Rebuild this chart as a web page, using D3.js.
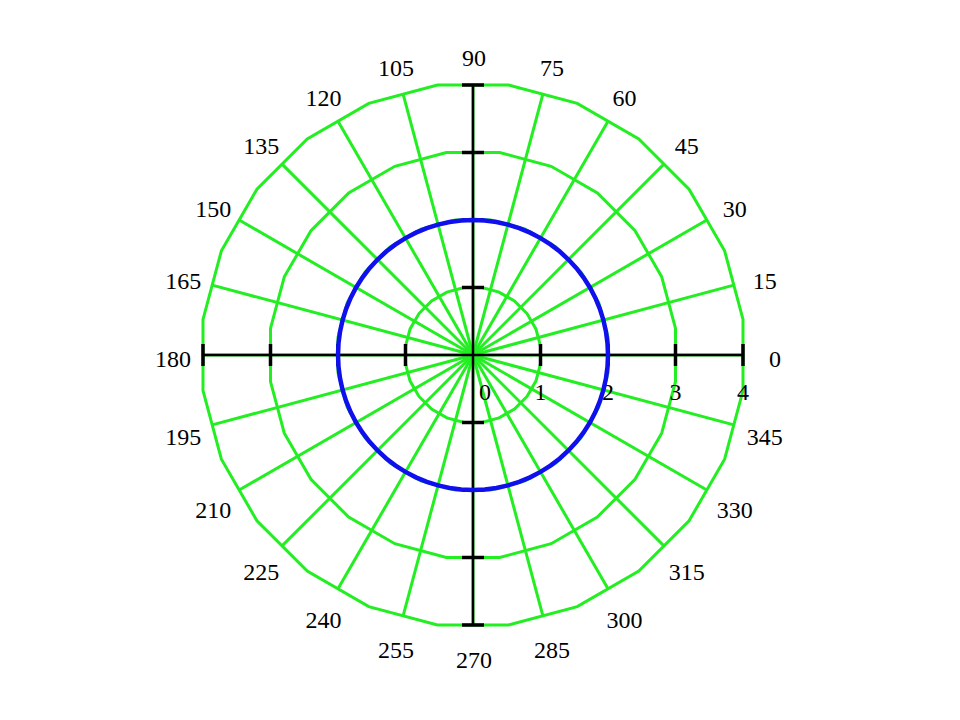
<!DOCTYPE html>
<html>
<head>
<meta charset="utf-8">
<script src="https://cdn.jsdelivr.net/npm/d3@7"></script>
<style>
html,body{margin:0;padding:0;background:#fff;}
svg{display:block;}
text{font-family:"Liberation Serif","Times New Roman",serif;font-size:24px;fill:#000;}
</style>
</head>
<body>
<svg id="chart" width="960" height="720"></svg>
<script>
// ---- data ----
const angleLabels = [0,15,30,45,60,75,90,105,120,135,150,165,180,195,210,225,240,255,270,285,300,315,330,345];
const radialTicks = [0,1,2,3,4];
const gridRings = [1,2,3,4];
// curve: angle (degrees) and radius
const curveTheta = [0,5,10,15,20,25,30,35,40,45,50,55,60,65,70,75,80,85,90,95,100,105,110,115,120,125,130,135,140,145,150,155,160,165,170,175,180,185,190,195,200,205,210,215,220,225,230,235,240,245,250,255,260,265,270,275,280,285,290,295,300,305,310,315,320,325,330,335,340,345,350,355,360];
const curveR = [2,2,2,2,2,2,2,2,2,2,2,2,2,2,2,2,2,2,2,2,2,2,2,2,2,2,2,2,2,2,2,2,2,2,2,2,2,2,2,2,2,2,2,2,2,2,2,2,2,2,2,2,2,2,2,2,2,2,2,2,2,2,2,2,2,2,2,2,2,2,2,2,2];

// ---- layout ----
const cx = 473, cy = 355;
const rMax = 4;
const r = d3.scaleLinear().domain([0, rMax]).range([0, 270]);
const toRad = d => d * Math.PI / 180;
const pt = (deg, rad) => [cx + rad * Math.cos(toRad(deg)), cy - rad * Math.sin(toRad(deg))];

const svg = d3.select("#chart");
svg.append("rect").attr("width",960).attr("height",720).attr("fill","#fff");
const green = "#22ee22";

// grid rings: 24-gon with vertices offset 7.5°, edges tangent at spokes
const ringG = svg.append("g");
gridRings.forEach(v => {
  const R = r(v) / Math.cos(toRad(7.5));
  const pts = d3.range(24).map(k => pt(7.5 + 15*k, R));
  ringG.append("polygon")
    .attr("points", pts.map(p => p.join(",")).join(" "))
    .attr("fill","none").attr("stroke",green).attr("stroke-width",3);
});
// spokes
angleLabels.forEach(a => {
  const p = pt(a, r(rMax));
  ringG.append("line").attr("x1",cx).attr("y1",cy).attr("x2",p[0]).attr("y2",p[1])
    .attr("stroke",green).attr("stroke-width",3);
});

// axes
const axG = svg.append("g").attr("stroke","#000");
axG.append("line").attr("x1",cx - r(rMax)).attr("x2",cx + r(rMax)).attr("y1",cy).attr("y2",cy).attr("stroke-width",2.5);
axG.append("line").attr("y1",cy - r(rMax)).attr("y2",cy + r(rMax)).attr("x1",cx).attr("x2",cx).attr("stroke-width",2.5);
radialTicks.filter(t => t > 0).forEach(t => {
  const d = r(t);
  axG.append("line").attr("x1",cx + d).attr("x2",cx + d).attr("y1",cy-11).attr("y2",cy+11).attr("stroke-width",3.5);
  axG.append("line").attr("x1",cx - d).attr("x2",cx - d).attr("y1",cy-11).attr("y2",cy+11).attr("stroke-width",3.5);
  axG.append("line").attr("y1",cy + d).attr("y2",cy + d).attr("x1",cx-11).attr("x2",cx+11).attr("stroke-width",3.5);
  axG.append("line").attr("y1",cy - d).attr("y2",cy - d).attr("x1",cx-11).attr("x2",cx+11).attr("stroke-width",3.5);
});

// radial tick labels
svg.append("g").selectAll("text").data(radialTicks).join("text")
  .attr("x", d => cx + r(d) + (d === 0 ? 12 : 0))
  .attr("y", cy + 45)
  .attr("text-anchor","middle")
  .text(d => d);

// curve
const line = d3.lineRadial()
  .angle((d,i) => toRad(90 - curveTheta[i]))
  .radius((d,i) => r(curveR[i]));
svg.append("path")
  .attr("transform", `translate(${cx},${cy})`)
  .attr("d", line(curveTheta))
  .attr("fill","none").attr("stroke","#1010ee").attr("stroke-width",4.5);

// angle labels
svg.append("g").selectAll("text").data(angleLabels).join("text")
  .attr("x", d => pt(d, 301)[0] + 1)
  .attr("y", d => pt(d, 301)[1] + 4)
  .attr("text-anchor","middle")
  .attr("dominant-baseline","central")
  .text(d => d);
</script>
</body>
</html>
